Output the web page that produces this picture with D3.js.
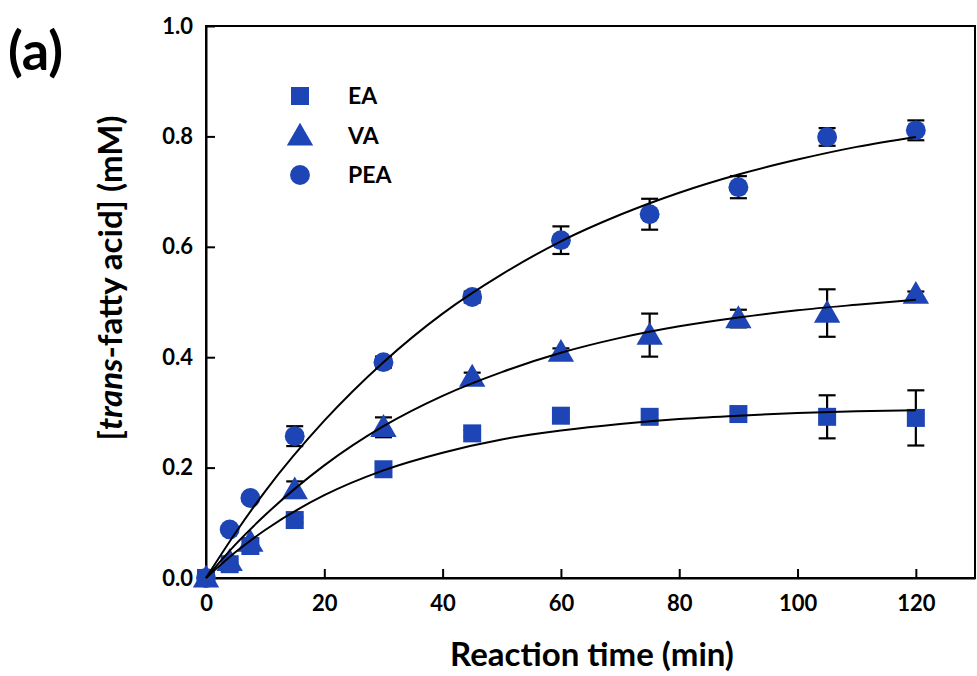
<!DOCTYPE html>
<html><head><meta charset="utf-8">
<script src="https://cdn.jsdelivr.net/npm/d3@7"></script>
<style>
html,body{margin:0;padding:0;background:#fff;}
text{font-family:Lato,"Open Sans",sans-serif;font-weight:bold;fill:#000;}
</style></head>
<body><svg id="c" width="977" height="676"></svg>
<script>
// ---- data ----
const times = [0, 4, 7.5, 15, 30, 45, 60, 75, 90, 105, 120];
const seriesNames = ["EA", "VA", "PEA"];
const eaValues  = [0, 0.025, 0.058, 0.105, 0.197, 0.262, 0.294, 0.292, 0.297, 0.292, 0.290];
const eaErrors  = [0, 0.004, 0.004, 0.005, 0.005, 0.006, 0.005, 0.004, 0.005, 0.039, 0.050];
const vaValues  = [0, 0.030, 0.065, 0.160, 0.273, 0.364, 0.409, 0.440, 0.470, 0.480, 0.514];
const vaErrors  = [0, 0.004, 0.005, 0.015, 0.018, 0.008, 0.007, 0.039, 0.016, 0.043, 0.005];
const peaValues = [0, 0.088, 0.145, 0.257, 0.391, 0.509, 0.612, 0.659, 0.708, 0.799, 0.811];
const peaErrors = [0, 0.004, 0.005, 0.018, 0.010, 0.010, 0.025, 0.028, 0.020, 0.016, 0.018];
// fitted curves, read at sample times
const fitTimes = [0, 5, 10, 20, 30, 40, 50, 60, 70, 80, 90, 100, 110, 120];
const eaFit  = [0, 0.047, 0.087, 0.150, 0.195, 0.227, 0.251, 0.267, 0.279, 0.288, 0.294, 0.299, 0.302, 0.304];
const vaFit  = [0, 0.061, 0.114, 0.204, 0.275, 0.330, 0.373, 0.408, 0.435, 0.456, 0.472, 0.485, 0.495, 0.504];
const peaFit = [0, 0.082, 0.157, 0.285, 0.391, 0.479, 0.550, 0.610, 0.658, 0.698, 0.731, 0.758, 0.781, 0.799];
const xTicks = [0, 20, 40, 60, 80, 100, 120];
const yTicks = [0, 0.2, 0.4, 0.6, 0.8, 1.0];

const blue = "#1e45b5";
const svg = d3.select("#c");
const L = 206, R = 975, T = 26, B = 578;
const x = d3.scaleLinear().domain([0, 130]).range([L, R]);
const y = d3.scaleLinear().domain([0, 1]).range([B, T]);

// frame
svg.append("rect").attr("x", L).attr("y", T).attr("width", R - L).attr("height", B - T)
  .attr("fill", "none").attr("stroke", "#000").attr("stroke-width", 2);

// axes with inward ticks
const xAxis = svg.append("g").attr("transform", `translate(0,${B})`)
  .call(d3.axisBottom(x).tickValues(xTicks).tickSizeInner(-9).tickSizeOuter(0).tickPadding(17).tickFormat(d3.format("d")));
const yAxis = svg.append("g").attr("transform", `translate(${L},0)`)
  .call(d3.axisLeft(y).tickValues(yTicks).tickSizeInner(-9).tickSizeOuter(0).tickPadding(13).tickFormat(d3.format(".1f")));
[xAxis, yAxis].forEach(g => {
  g.select(".domain").attr("stroke-width", 2);
  g.selectAll(".tick line").attr("stroke-width", 2);
  g.selectAll(".tick text").style("font-size", "22px").style("font-family", "Lato, sans-serif").style("font-weight", "bold");
});

// axis titles
svg.append("text").attr("x", 592).attr("y", 666).attr("text-anchor", "middle")
  .style("font-size", "33px").text("Reaction time (min)");
const yt = svg.append("text").attr("transform", `translate(122,278) rotate(-90)`)
  .attr("text-anchor", "middle").style("font-size", "33px");
yt.append("tspan").text("[");
yt.append("tspan").style("font-style", "italic").text("trans");
yt.append("tspan").text("-fatty acid] (mM)");

svg.append("text").attr("x", 8).attr("y", 70).style("font-size", "54px").text("(a)");

const series = [
  {name: "EA", v: eaValues, e: eaErrors, fit: eaFit, shape: d3.symbolSquare, size: 324},
  {name: "VA", v: vaValues, e: vaErrors, fit: vaFit, shape: d3.symbolTriangle, size: 300},
  {name: "PEA", v: peaValues, e: peaErrors, fit: peaFit, shape: d3.symbolCircle, size: 310}
];

// error bars
series.forEach(s => {
  const g = svg.append("g").attr("stroke", "#000").attr("stroke-width", 2.2);
  times.forEach((t, i) => {
    if (s.e[i] <= 0) return;
    const cx = x(t), y1 = y(s.v[i] + s.e[i]), y2 = y(s.v[i] - s.e[i]);
    g.append("line").attr("x1", cx).attr("x2", cx).attr("y1", y1).attr("y2", y2);
    g.append("line").attr("x1", cx - 8.5).attr("x2", cx + 8.5).attr("y1", y1).attr("y2", y1);
    g.append("line").attr("x1", cx - 8.5).attr("x2", cx + 8.5).attr("y1", y2).attr("y2", y2);
  });
});

// markers
series.forEach(s => {
  const sym = d3.symbol().type(s.shape).size(s.size);
  svg.append("g").selectAll("path").data(times).join("path")
    .attr("d", sym)
    .attr("transform", (t, i) => `translate(${x(t)},${y(s.v[i]) + (s.shape === d3.symbolTriangle ? 2 : 0)})`)
    .attr("fill", blue);
});

// fit curves
series.forEach(s => {
  const line = d3.line().x((t) => x(t)).y((t, i) => y(s.fit[i])).curve(d3.curveMonotoneX);
  svg.append("path").attr("d", line(fitTimes)).attr("fill", "none").attr("stroke", "#000").attr("stroke-width", 2);
});

// legend
const legY = [96, 136, 175];
series.forEach((s, i) => {
  const sym = d3.symbol().type(s.shape).size(s.size);
  svg.append("path").attr("d", sym).attr("transform", `translate(300,${legY[i] + (s.shape === d3.symbolTriangle ? 2 : 0)})`).attr("fill", blue);
  svg.append("text").attr("x", 348).attr("y", legY[i]).attr("dy", "0.36em").style("font-size", "23px").text(s.name);
});
</script></body></html>
